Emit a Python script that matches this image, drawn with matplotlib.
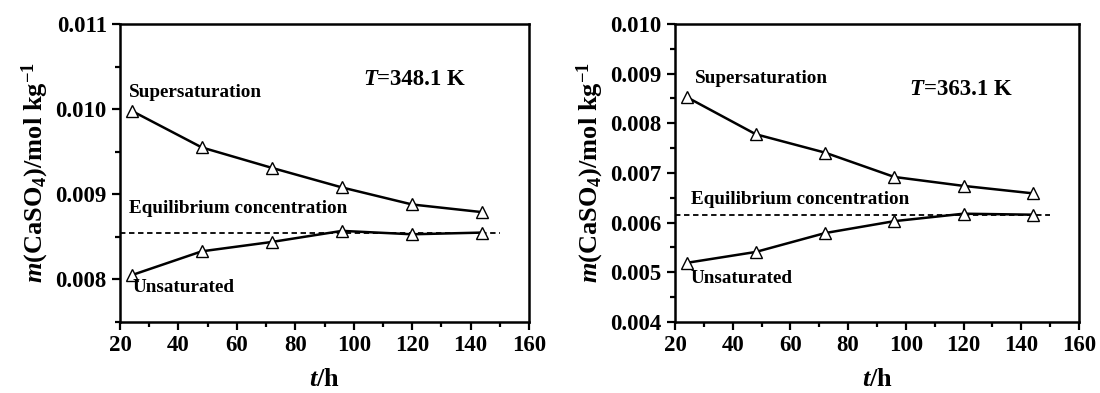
import matplotlib
matplotlib.use("Agg")
import matplotlib.pyplot as plt
from matplotlib.ticker import MultipleLocator, FormatStrFormatter

plt.rcParams['font.family'] = ['Liberation Serif', 'DejaVu Serif']
plt.rcParams['font.weight'] = 'bold'
plt.rcParams['mathtext.fontset'] = 'custom'
plt.rcParams['mathtext.rm'] = 'Liberation Serif:bold'
plt.rcParams['mathtext.it'] = 'Liberation Serif:bold:italic'
plt.rcParams['mathtext.bf'] = 'Liberation Serif:bold'

hours = [24, 48, 72, 96, 120, 144]

# T = 348.1 K
super_348 = [0.00998, 0.00955, 0.00931, 0.00908, 0.00888, 0.00879]
unsat_348 = [0.00805, 0.00833, 0.00844, 0.00857, 0.00853, 0.00855]
eq_348 = 0.00855

# T = 363.1 K
super_363 = [0.00853, 0.00778, 0.00741, 0.00692, 0.00674, 0.00659]
unsat_363 = [0.00519, 0.00541, 0.00579, 0.00603, 0.00618, 0.00616]
eq_363 = 0.00615

fig = plt.figure(figsize=(11, 3.93), dpi=100)
ax1 = fig.add_axes([0.1091, 0.1807, 0.3718, 0.7583])
ax2 = fig.add_axes([0.6136, 0.1807, 0.3673, 0.7583])

panels = [
    (ax1, super_348, unsat_348, eq_348, (0.0075, 0.011), '=348.1 K',
     dict(sup=(23.2, 0.0102), eq=(23.2, 0.00883), uns=(24.4, 0.0079), T=(103.2, 0.01035))),
    (ax2, super_363, unsat_363, eq_363, (0.004, 0.010), '=363.1 K',
     dict(sup=(26.8, 0.00891), eq=(25.5, 0.00647), uns=(25.5, 0.00487), T=(101.3, 0.00869))),
]

for ax, sup, uns, eq, ylim, tval, pos in panels:
    ax.plot([20, 150], [eq, eq], ls=(0, (3, 2)), color='black', lw=1.3)
    for series in (sup, uns):
        ax.plot(hours, series, color='black', lw=1.8, marker='^', ms=8,
                mfc='white', mec='black', mew=1.0)
    ax.set_xlim(20, 160)
    ax.set_ylim(*ylim)
    ax.xaxis.set_major_locator(MultipleLocator(20))
    ax.xaxis.set_minor_locator(MultipleLocator(10))
    ax.yaxis.set_major_locator(MultipleLocator(0.001))
    ax.yaxis.set_minor_locator(MultipleLocator(0.0005))
    ax.yaxis.set_major_formatter(FormatStrFormatter('%.3f'))
    ax.tick_params(which='both', direction='out', labelsize=16.5, width=1.6)
    ax.tick_params(which='major', length=6)
    ax.tick_params(which='minor', length=3.5)
    for s in ax.spines.values():
        s.set_linewidth(1.8)
    ax.set_xlabel(r'$t\mathbf{/h}$', fontsize=19, labelpad=9)
    ax.set_ylabel(r'$m\mathbf{(CaSO_4)/mol\ kg^{-1}}$', fontsize=19, labelpad=3)
    ax.text(*pos['sup'], 'Supersaturation', fontsize=13.8, ha='left', va='center')
    ax.text(*pos['eq'], 'Equilibrium concentration', fontsize=13.8, ha='left', va='center')
    ax.text(*pos['uns'], 'Unsaturated', fontsize=13.8, ha='left', va='center')
    t_sym = ax.text(*pos['T'], 'T', fontsize=16.5, style='italic',
                    ha='left', va='center')
    ax.annotate(tval, xy=(1, 0), xycoords=t_sym, fontsize=16.5,
                ha='left', va='bottom')

fig.savefig('out.png', dpi=100)
